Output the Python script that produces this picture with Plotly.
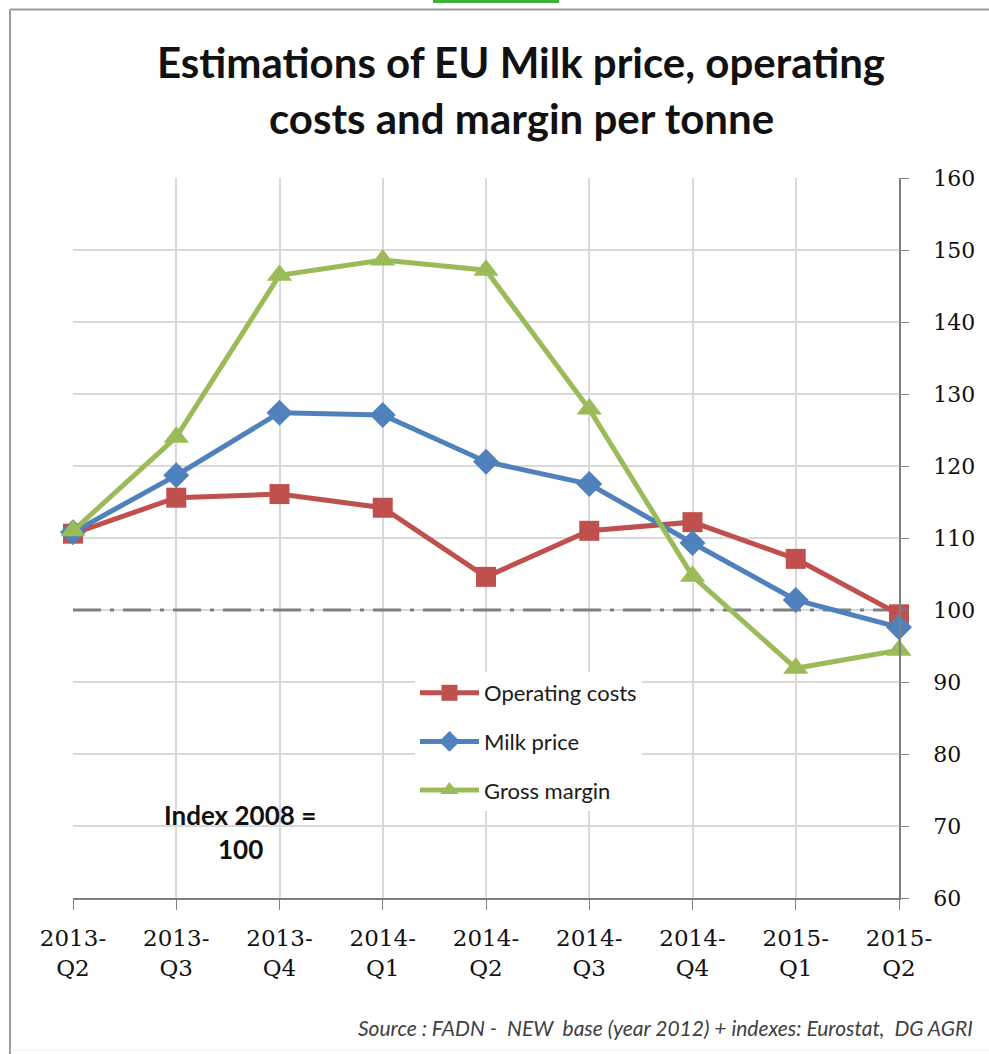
import plotly.graph_objects as go

# Quarterly periods (x axis) and index values (2008 = 100)
quarters = ["2013-Q2", "2013-Q3", "2013-Q4", "2014-Q1", "2014-Q2",
            "2014-Q3", "2014-Q4", "2015-Q1", "2015-Q2"]
tick_labels = [q.replace("-", "-<br>") for q in quarters]

operating_costs = [110.6, 115.6, 116.1, 114.2, 104.6, 111.0, 112.2, 107.1, 99.4]
milk_price = [110.8, 118.7, 127.4, 127.1, 120.6, 117.5, 109.3, 101.4, 97.6]
gross_margin = [111.0, 124.0, 146.5, 148.6, 147.2, 127.9, 104.7, 91.9, 94.4]

y_ticks = list(range(60, 161, 10))
base_index = 100

W, H = 989, 1054
ML, MR, MT, MB = 73, 90, 178, 156
PW, PH = W - ML - MR, H - MT - MB


def px_x(p):
    return (p - ML) / PW


def px_y(p):
    return (H - MB - p) / PH


x = list(range(len(quarters)))

series = [
    ("Operating costs", operating_costs, "#C0504D", "square", 20),
    ("Milk price", milk_price, "#4F81BD", "diamond", 20),
    ("Gross margin", gross_margin, "#9BBB59", "triangle-up", 22),
]

fig = go.Figure()
for i, (name, vals, col, sym, size) in enumerate(series):
    fig.add_trace(go.Scatter(
        x=x, y=vals, name=name, mode="lines+markers",
        line=dict(color=col, width=5),
        marker=dict(symbol=sym, size=size, color=col),
        cliponaxis=False, legendgroup=str(i),
    ))

fig.update_layout(
    width=W, height=H,
    margin=dict(l=ML, r=MR, t=MT, b=MB),
    paper_bgcolor="white", plot_bgcolor="white",
    font=dict(family="Lato", color="#1a1a1a"),
    showlegend=True,
    legend=dict(
        x=px_x(415), y=px_y(672), xanchor="left", yanchor="top",
        bgcolor="white", borderwidth=0,
        font=dict(family="Lato", size=22, color="#1a1a1a"),
        tracegroupgap=17, itemwidth=59,
    ),
    xaxis=dict(
        range=[0, len(quarters) - 1], tickmode="array",
        tickvals=x, ticktext=tick_labels,
        showgrid=True, gridcolor="#d9d9d9", gridwidth=1.5,
        showline=True, linecolor="#7f7f7f", linewidth=1.5,
        ticks="outside", ticklen=10, tickcolor="#7f7f7f",
        tickfont=dict(family="DejaVu Serif", size=23, color="#111111"),
        ticklabelstandoff=9, zeroline=False,
    ),
    yaxis=dict(
        range=[60, 160], side="right", tickmode="array", tickvals=y_ticks,
        showgrid=True, gridcolor="#d9d9d9", gridwidth=1.5,
        showline=True, linecolor="#7f7f7f", linewidth=1.5,
        ticks="outside", ticklen=8, tickcolor="#7f7f7f",
        tickfont=dict(family="DejaVu Serif", size=22, color="#111111"),
        ticklabelstandoff=20, zeroline=False,
    ),
)

# Reference line at the base index
fig.add_shape(type="line", xref="x", yref="y", x0=0, x1=len(quarters) - 1,
              y0=base_index, y1=base_index,
              line=dict(color="#7f7f7f", width=3, dash="28px,9px,4px,9px"),
              layer="between")

# Outer frame lines and top accent bar
fig.add_shape(type="line", xref="paper", yref="paper",
              x0=px_x(10), x1=px_x(W), y0=px_y(9.5), y1=px_y(9.5),
              line=dict(color="#9a9a9a", width=2))
fig.add_shape(type="line", xref="paper", yref="paper",
              x0=px_x(10), x1=px_x(10), y0=px_y(9.5), y1=px_y(H),
              line=dict(color="#9a9a9a", width=2))
fig.add_shape(type="line", xref="paper", yref="paper",
              x0=px_x(10), x1=px_x(W), y0=px_y(1050), y1=px_y(1050),
              line=dict(color="#eeeeee", width=1))
fig.add_shape(type="rect", xref="paper", yref="paper",
              x0=px_x(433), x1=px_x(559), y0=px_y(0), y1=px_y(3),
              fillcolor="#3fae3a", line=dict(width=0))

# Title
for txt, cy in [("Estimations of EU Milk price, operating", 62),
                ("costs and margin per tonne", 118)]:
    fig.add_annotation(text=f"<b>{txt}</b>", xref="paper", yref="paper",
                       x=px_x(521), y=px_y(cy), xanchor="center", yanchor="middle",
                       showarrow=False,
                       font=dict(family="Lato", size=42, color="#111111"))

# Index note
for txt, cy in [("Index 2008 =", 815), ("100", 849)]:
    fig.add_annotation(text=f"<b>{txt}</b>", xref="paper", yref="paper",
                       x=px_x(240), y=px_y(cy), xanchor="center", yanchor="middle",
                       showarrow=False,
                       font=dict(family="Lato", size=26, color="#111111"))

# Source note
fig.add_annotation(
    text="<i>Source : FADN -  NEW  base (year 2012) + indexes: Eurostat,  DG AGRI</i>",
    xref="paper", yref="paper", x=px_x(975), y=px_y(1027),
    xanchor="right", yanchor="middle", showarrow=False,
    font=dict(family="Lato", size=21, color="#404040"))

fig.write_html("out.html")
